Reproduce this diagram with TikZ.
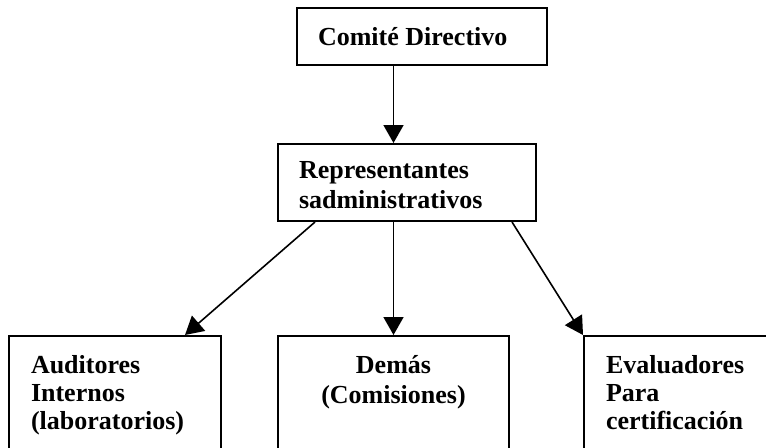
\documentclass[tikz,border=0pt]{standalone}
\usepackage{fontspec}
\setmainfont{Liberation Serif}
\usetikzlibrary{arrows.meta}
\tikzset{
  box/.style={draw, line width=1.5pt, inner ysep=0pt,
    font=\bfseries\fontsize{19.5}{21}\selectfont},
  lower/.style={box, anchor=north west, inner xsep=16.5pt,
    text height=27.75pt, text depth=81pt}
}
\begin{document}
\begin{tikzpicture}[x=0.75pt,y=-0.75pt]
      \useasboundingbox (0,0) rectangle (766,447);
      \clip (0,0) rectangle (766,447);
      \draw
        (422,36.5) node[box, align=flush left, text width=156pt, inner xsep=15.75pt, minimum height=42.75pt] (comite){Comité Directivo}
        (277,143) node[box, anchor=north west, align=flush left, text width=162pt, inner xsep=15.75pt,
          font=\bfseries\fontsize{19.5}{23}\selectfont,
          text height=25.5pt, text depth=32.25pt] (repres){Representantes\\sadministrativos}
        (8,335) node[lower, align=flush left, text width=126pt] (audit){Auditores\\Internos\\(laboratorios)}
        (277,335) node[lower, align=center, text width=140.25pt,
          font=\bfseries\fontsize{19.5}{22.5}\selectfont] (demas){Demás\\(Comisiones)}
        (583,335) node[lower, align=flush left, text width=132pt] (evalua){Evaluadores\\Para\\certificación};
      \begin{scope}[-{Triangle[length=13.5pt,width=15pt]}, line width=1.2pt]
        \draw (comite.south -| demas.north) to (repres.north -| demas.north);
        \draw ([xshift=28.5pt]repres.south west) to ([xshift=-27.75pt]audit.north east);
        \draw (repres.south -| demas.north) to (demas.north);
        \draw ([xshift=-18.75pt]repres.south east) to (evalua.north west);
      \end{scope}
    \end{tikzpicture}
\end{document}
